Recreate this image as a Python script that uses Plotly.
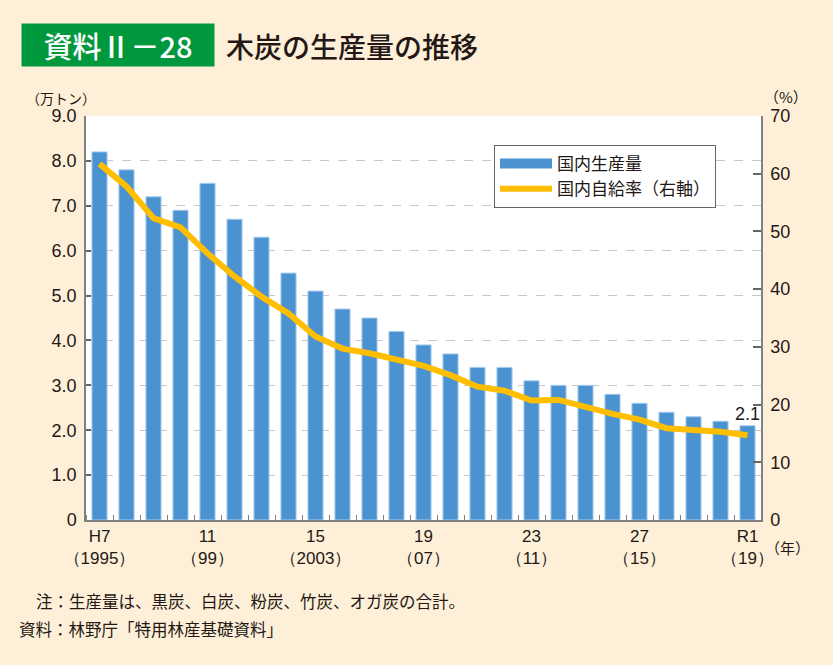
import plotly.graph_objects as go

years = list(range(1995, 2020))
production = [8.2, 7.8, 7.2, 6.9, 7.5, 6.7, 6.3, 5.5, 5.1, 4.7, 4.5, 4.2, 3.9,
              3.7, 3.4, 3.4, 3.1, 3.0, 3.0, 2.8, 2.6, 2.4, 2.3, 2.2, 2.1]
self_sufficiency = [61.7, 57.8, 52.3, 50.7, 46.2, 42.2, 38.7, 35.8, 31.8, 29.7,
                    28.9, 27.7, 26.7, 25.1, 23.1, 22.4, 20.7, 20.8, 19.5, 18.4,
                    17.4, 15.9, 15.6, 15.3, 14.7]
label_positions = [0, 4, 8, 12, 16, 20, 24]
label_texts = ["H7<br>（1995）", "11<br>（99）", "15<br>（2003）", "19<br>（07）",
               "23<br>（11）", "27<br>（15）", "R1<br>（19）"]
left_ticks = [0, 1, 2, 3, 4, 5, 6, 7, 8, 9]
left_tick_text = ["0", "1.0", "2.0", "3.0", "4.0", "5.0", "6.0", "7.0", "8.0", "9.0"]
right_ticks = [0, 10, 20, 30, 40, 50, 60, 70]

JP = "Noto Sans CJK JP"
NUM = "Liberation Sans, Arial, sans-serif"
TXT = "#231815"
AX = "#808080"
BG = "#FEF0D8"
BAR = "#4A93D0"

x_idx = list(range(len(years)))

fig = go.Figure()
fig.add_trace(go.Bar(
    x=x_idx, y=production, name="国内生産量",
    marker=dict(color=BAR, line=dict(color="#A6CBEE", width=1)),
    yaxis="y", width=0.56, showlegend=False,
))
# legend-only entry giving the wide rectangular swatch of the reference
fig.add_trace(go.Scatter(
    x=[None], y=[None], name="国内生産量", mode="lines",
    line=dict(color=BAR, width=15), yaxis="y",
))
fig.add_trace(go.Scatter(
    x=x_idx, y=self_sufficiency, name="国内自給率（右軸）",
    mode="lines", line=dict(color="#FFBE00", width=6),
    yaxis="y2",
))

PL, PR, PT, PB = 86, 761, 116, 520
W, H = 833, 665


def px(x):
    return (x - PL) / (PR - PL)


def py(y):
    return (PB - y) / (PB - PT)


annotations = [
    dict(text="資料Ⅱ－28", x=px(118), y=py(45), xref="paper", yref="paper",
         showarrow=False, font=dict(family=JP, size=29, color="white", weight=500),
         bgcolor="#00983C", width=190, height=40, xanchor="center", yanchor="middle"),
    dict(text="木炭の生産量の推移", x=px(224), y=py(46), xref="paper", yref="paper",
         showarrow=False, font=dict(family=JP, size=28, color=TXT, weight=500),
         xanchor="left", yanchor="middle"),
    dict(text="（万トン）", x=px(97), y=py(98), xref="paper", yref="paper",
         showarrow=False, font=dict(family=JP, size=14, color=TXT),
         xanchor="right", yanchor="middle", borderpad=0),
    dict(text="（%）", x=px(762), y=py(97), xref="paper", yref="paper",
         showarrow=False, font=dict(family=JP, size=15, color=TXT),
         xanchor="left", yanchor="middle"),
    dict(text="（年）", x=px(763), y=py(547), xref="paper", yref="paper",
         showarrow=False, font=dict(family=JP, size=15, color=TXT),
         xanchor="left", yanchor="middle"),
    dict(text="2.1", x=24, y=2.1, xref="x", yref="y", showarrow=False,
         font=dict(family=NUM, size=18, color=TXT), xanchor="center",
         yanchor="bottom", yshift=0),
    dict(text="注：生産量は、黒炭、白炭、粉炭、竹炭、オガ炭の合計。", x=px(34), y=py(601),
         xref="paper", yref="paper", showarrow=False,
         font=dict(family=JP, size=16.5, color=TXT), xanchor="left", yanchor="middle"),
    dict(text="資料：林野庁「特用林産基礎資料」", x=px(17), y=py(629),
         xref="paper", yref="paper", showarrow=False,
         font=dict(family=JP, size=16.5, color=TXT), xanchor="left", yanchor="middle"),
]

fig.update_layout(
    width=W, height=H,
    margin=dict(l=PL, r=W - PR, t=PT, b=H - PB, pad=0, autoexpand=False),
    paper_bgcolor=BG,
    plot_bgcolor="white",
    showlegend=True,
    legend=dict(x=px(494), y=py(145), xanchor="left", yanchor="top",
                bgcolor="white", bordercolor="#666666", borderwidth=1,
                font=dict(family=JP, size=17, color=TXT), itemwidth=52,
                tracegroupgap=2),
    bargap=0.44,
    xaxis=dict(
        range=[-0.5, len(years) - 0.5],
        tickmode="array", tickvals=label_positions, ticktext=label_texts,
        ticks="", showgrid=False, zeroline=False, automargin=False,
        showline=True, linecolor=AX, linewidth=1.5,
        tickfont=dict(family=NUM, size=17, color=TXT),
        minor=dict(tickmode="array", tickvals=[i - 0.5 for i in range(len(years) + 1)],
                   ticks="inside", ticklen=5, tickcolor=AX, tickwidth=1, showgrid=False),
    ),
    yaxis=dict(
        range=[0, 9], tickmode="array", tickvals=left_ticks, ticktext=left_tick_text,
        ticks="inside", ticklen=5, tickcolor="#666666", tickwidth=1.5,
        showgrid=True, gridcolor="#C8C8C8", griddash="dash", gridwidth=1,
        zeroline=False, showline=True, linecolor=AX, linewidth=1.5, automargin=False,
        tickfont=dict(family=NUM, size=18, color=TXT), ticklabelstandoff=4,
    ),
    yaxis2=dict(
        range=[0, 70], tickmode="array", tickvals=right_ticks,
        overlaying="y", side="right", anchor="x", automargin=False,
        ticks="inside", ticklen=8, tickcolor="#666666", tickwidth=1.5,
        showgrid=False, zeroline=False, showline=True, linecolor=AX, linewidth=1.5,
        tickfont=dict(family=NUM, size=18, color=TXT), ticklabelstandoff=4,
    ),
    annotations=annotations,
)

fig.write_html(
    "out.html",
    config={"displayModeBar": False},
    post_script="document.body.style.margin='0';document.body.style.background='%s';" % BG,
)
